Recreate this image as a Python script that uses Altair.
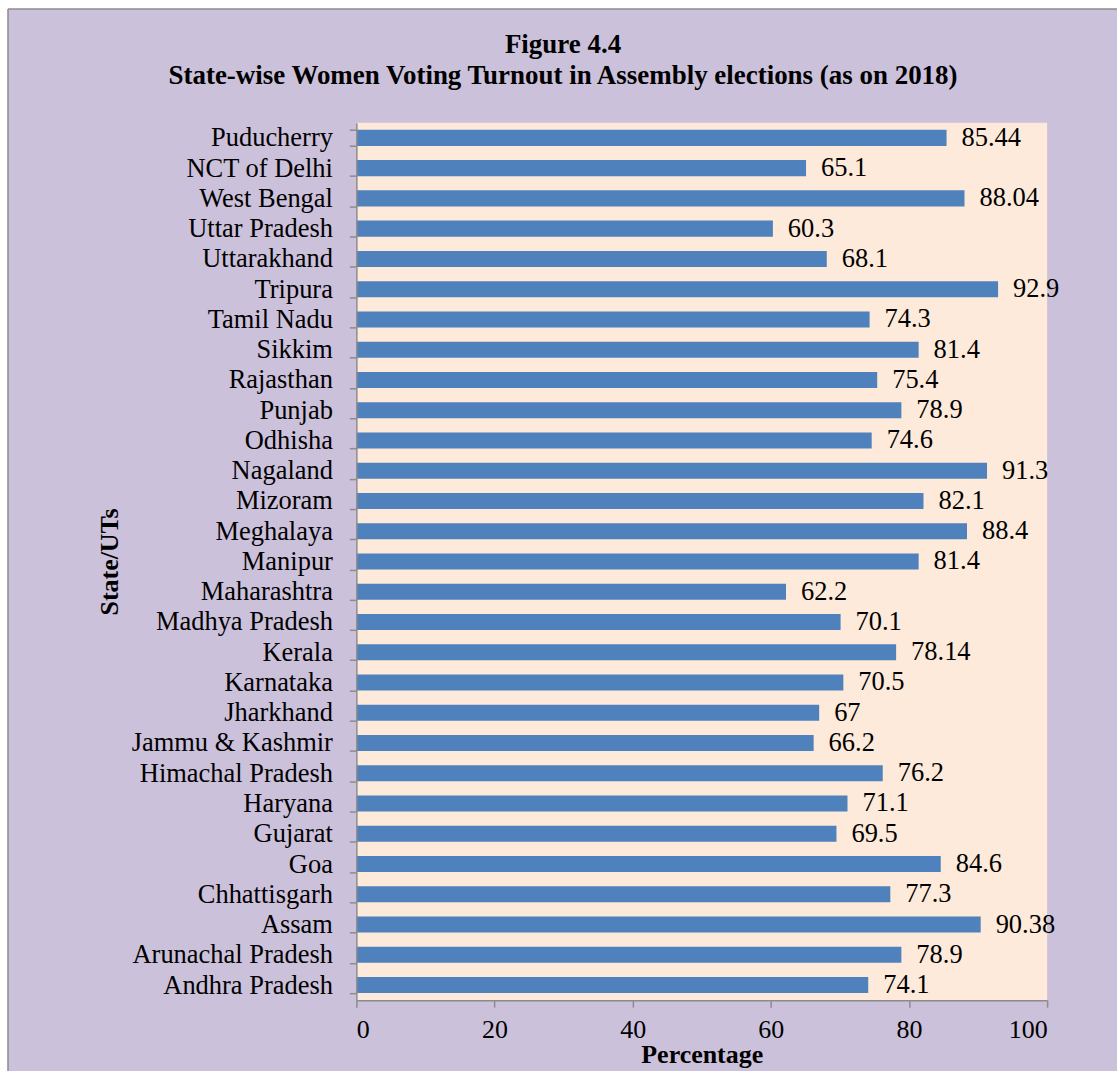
import altair as alt
import pandas as pd

# State-wise women voting turnout, listed top to bottom as drawn
states = [
    "Puducherry", "NCT of Delhi", "West Bengal", "Uttar Pradesh", "Uttarakhand",
    "Tripura", "Tamil Nadu", "Sikkim", "Rajasthan", "Punjab", "Odhisha",
    "Nagaland", "Mizoram", "Meghalaya", "Manipur", "Maharashtra",
    "Madhya Pradesh", "Kerala", "Karnataka", "Jharkhand", "Jammu & Kashmir",
    "Himachal Pradesh", "Haryana", "Gujarat", "Goa", "Chhattisgarh", "Assam",
    "Arunachal Pradesh", "Andhra Pradesh",
]
turnout = [
    85.44, 65.1, 88.04, 60.3, 68.1,
    92.9, 74.3, 81.4, 75.4, 78.9, 74.6,
    91.3, 82.1, 88.4, 81.4, 62.2,
    70.1, 78.14, 70.5, 67, 66.2,
    76.2, 71.1, 69.5, 84.6, 77.3, 90.38,
    78.9, 74.1,
]
x_ticks = [0, 20, 40, 60, 80, 100]

title_lines = [
    "Figure 4.4",
    "State-wise Women Voting Turnout in Assembly elections (as on 2018)",
]

df = pd.DataFrame({"state": states, "turnout": turnout})
df["label"] = [f"{v:g}" for v in turnout]

SERIF = "Liberation Serif"
W, H = 692, 879
LAVENDER = "#CCC1DA"
PEACH = "#FDEADA"
BAR = "#4F81BD"
GREY = "#8C8C8C"

one = pd.DataFrame({"k": [0]})

# Frame: lavender panel with a grey border on top and left
panel = alt.Chart(one).mark_rect(color=LAVENDER).encode(
    x=alt.value(-349), x2=alt.value(762), y=alt.value(-114), y2=alt.value(950)
)
border_top = alt.Chart(one).mark_rule(color=GREY, strokeWidth=1.5).encode(
    x=alt.value(-349), x2=alt.value(762), y=alt.value(-114)
)
border_left = alt.Chart(one).mark_rule(color=GREY, strokeWidth=1.5).encode(
    x=alt.value(-349), y=alt.value(-114), y2=alt.value(950)
)
plot_bg = alt.Chart(one).mark_rect(color=PEACH).encode(
    x=alt.value(0), x2=alt.value(W), y=alt.value(0), y2=alt.value(H)
)

# Two-line heading drawn inside the panel
heading = [
    alt.Chart(pd.DataFrame({"t": [line]})).mark_text(
        font=SERIF, fontSize=27, fontWeight="bold", color="black",
        align="center", baseline="alphabetic",
    ).encode(x=alt.value(207), y=alt.value(yy), text="t:N")
    for line, yy in zip(title_lines, [-70, -39])
]

y_enc = alt.Y(
    "state:N",
    sort=states,
    title="State/UTs",
    scale=alt.Scale(paddingInner=0.47, paddingOuter=0.235),
    axis=alt.Axis(
        zindex=2,
        tickBand="extent",
        tickSize=7,
        tickColor=GREY,
        domainColor=GREY,
        tickWidth=1.5,
        domainWidth=1.5,
        labelFont=SERIF,
        labelFontSize=26.5,
        labelColor="black",
        labelPadding=17,
        labelLimit=400,
        titleFont=SERIF,
        titleFontSize=26,
        titleFontWeight="bold",
        titleColor="black",
        titlePadding=34,
    ),
)
x_enc = alt.X(
    "turnout:Q",
    title="Percentage",
    scale=alt.Scale(domain=[0, 100], nice=False),
    axis=alt.Axis(
        zindex=2,
        values=x_ticks,
        grid=False,
        tickSize=7,
        tickColor=GREY,
        domainColor=GREY,
        tickWidth=1.5,
        domainWidth=1.5,
        labelFont=SERIF,
        labelFontSize=26,
        labelColor="black",
        labelPadding=9,
        titleFont=SERIF,
        titleFontSize=26,
        titleFontWeight="bold",
        titleColor="black",
        titlePadding=-1,
    ),
)

bars = alt.Chart(df).mark_bar(color=BAR).encode(x=x_enc, y=y_enc)
values = alt.Chart(df).mark_text(
    align="left", baseline="middle", dx=15, font=SERIF, fontSize=26.5, color="black"
).encode(x="turnout:Q", y=alt.Y("state:N", sort=states), text="label:N")

chart = (
    alt.layer(panel, border_top, border_left, plot_bg, *heading, bars, values)
    .properties(
        width=W,
        height=H,
        padding={"left": 7, "top": 7, "right": 0, "bottom": 0},
        background="white",
    )
    .configure_view(stroke=None)
)

chart.save("out.html", embed_options={"renderer": "svg", "actions": False})
